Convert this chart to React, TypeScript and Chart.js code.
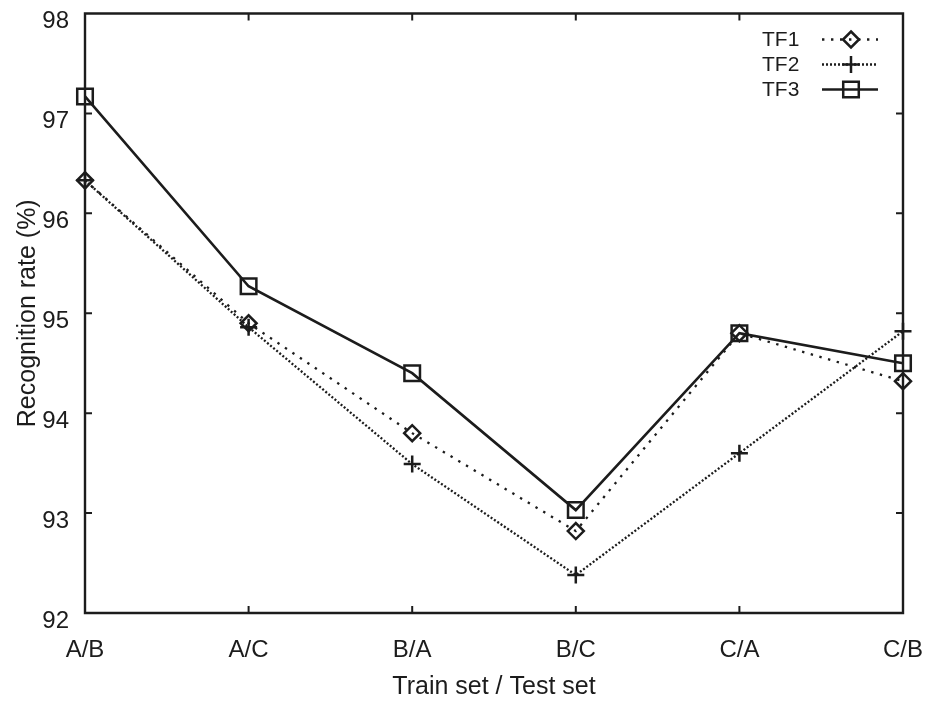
import React, { useEffect, useRef } from 'react';
import { Chart, registerables } from 'chart.js';

Chart.register(...registerables);

// Train/test split combinations along the x axis
const categories = ['A/B', 'A/C', 'B/A', 'B/C', 'C/A', 'C/B'];
const seriesNames = ['TF1', 'TF2', 'TF3'];

// Recognition rate (%) per split
const tf1Values = [96.33, 94.9, 93.8, 92.82, 94.8, 94.32];
const tf2Values = [96.33, 94.86, 93.49, 92.38, 93.6, 94.82];
const tf3Values = [97.17, 95.27, 94.4, 93.03, 94.8, 94.5];

const yMin = 92;
const yMax = 98;
const yStep = 1;

const INK = '#1c1c1c';
const FONT = '"Liberation Sans", Arial, Helvetica, sans-serif';

type MarkerStyle = 'rect' | 'rectRot' | 'cross';

function strokeMarker(ctx: CanvasRenderingContext2D, style: MarkerStyle, x: number, y: number, r: number) {
  ctx.beginPath();
  if (style === 'rect') {
    const h = r * Math.SQRT1_2;
    ctx.rect(x - h, y - h, 2 * h, 2 * h);
  } else if (style === 'rectRot') {
    ctx.moveTo(x, y - r);
    ctx.lineTo(x + r, y);
    ctx.lineTo(x, y + r);
    ctx.lineTo(x - r, y);
    ctx.closePath();
  } else {
    ctx.moveTo(x - r, y);
    ctx.lineTo(x + r, y);
    ctx.moveTo(x, y - r);
    ctx.lineTo(x, y + r);
  }
  ctx.stroke();
}

// Boxed frame with short inward tick marks on all four sides
const framePlugin = {
  id: 'frame',
  beforeDatasetsDraw(chart: any) {
    const { ctx, chartArea } = chart;
    const { left, right, top, bottom } = chartArea;
    const xs = chart.scales.x;
    const ys = chart.scales.y;
    const tick = 7;
    ctx.save();
    ctx.strokeStyle = INK;
    ctx.lineWidth = 2.4;
    ctx.setLineDash([]);
    ctx.beginPath();
    ctx.rect(left, top, right - left, bottom - top);
    ctx.stroke();
    ctx.lineWidth = 2;
    ctx.beginPath();
    for (let v = yMin + yStep; v < yMax; v += yStep) {
      const py = ys.getPixelForValue(v);
      ctx.moveTo(left, py);
      ctx.lineTo(left + tick, py);
      ctx.moveTo(right, py);
      ctx.lineTo(right - tick, py);
    }
    for (let i = 1; i < categories.length - 1; i++) {
      const px = xs.getPixelForValue(i);
      ctx.moveTo(px, bottom);
      ctx.lineTo(px, bottom - tick);
      ctx.moveTo(px, top);
      ctx.lineTo(px, top + tick);
    }
    ctx.stroke();
    ctx.restore();
  },
};

// Legend in the upper-right corner: name, then a line sample with its marker
const legendPlugin = {
  id: 'sampleLegend',
  afterDraw(chart: any) {
    const { ctx, chartArea } = chart;
    const textX = chartArea.right - 141;
    const lineX0 = chartArea.right - 81;
    const lineX1 = chartArea.right - 25;
    const markX = chartArea.right - 52;
    ctx.save();
    chart.data.datasets.forEach((ds: any, i: number) => {
      const y = chartArea.top + 26 + 25 * i;
      ctx.fillStyle = INK;
      ctx.font = `21px ${FONT}`;
      ctx.textAlign = 'left';
      ctx.textBaseline = 'middle';
      ctx.fillText(ds.label, textX, y + 1);
      ctx.strokeStyle = INK;
      ctx.lineWidth = ds.borderWidth;
      ctx.lineCap = 'butt';
      ctx.setLineDash(ds.borderDash || []);
      ctx.beginPath();
      ctx.moveTo(lineX0, y);
      ctx.lineTo(lineX1, y);
      ctx.stroke();
      ctx.setLineDash([]);
      ctx.lineWidth = ds.pointBorderWidth;
      strokeMarker(ctx, ds.pointStyle, markX, y, ds.pointRadius);
    });
    ctx.restore();
  },
};

function clearLabelPadding(scale: any) {
  scale.paddingTop = 0;
  scale.paddingBottom = 0;
  scale.paddingLeft = 0;
  scale.paddingRight = 0;
}

export default function App() {
  const canvasRef = useRef<HTMLCanvasElement | null>(null);

  useEffect(() => {
    const canvas = canvasRef.current;
    if (!canvas) return;

    const base = {
      borderColor: INK,
      pointBorderColor: INK,
      pointBackgroundColor: 'rgba(0,0,0,0)',
      backgroundColor: 'rgba(0,0,0,0)',
      fill: false,
      tension: 0,
      clip: false as const,
      pointHoverRadius: 0,
    };

    const chart = new Chart(canvas, {
      type: 'line',
      data: {
        labels: categories,
        datasets: [
          {
            ...base,
            label: seriesNames[0],
            data: tf1Values,
            borderWidth: 2.3,
            borderDash: [2.4, 6.6],
            pointStyle: 'rectRot',
            pointRadius: 8,
            pointBorderWidth: 2.5,
          },
          {
            ...base,
            label: seriesNames[1],
            data: tf2Values,
            borderWidth: 2.3,
            borderDash: [2, 2],
            pointStyle: 'cross',
            pointRadius: 8.5,
            pointBorderWidth: 2.5,
          },
          {
            ...base,
            label: seriesNames[2],
            data: tf3Values,
            borderWidth: 2.6,
            borderDash: [],
            pointStyle: 'rect',
            pointRadius: 11,
            pointBorderWidth: 2.5,
          },
        ],
      },
      options: {
        responsive: false,
        animation: false,
        devicePixelRatio: 1,
        layout: { padding: { top: 12, right: 23, left: 0, bottom: 0 } },
        plugins: {
          legend: { display: false },
          tooltip: { enabled: false },
        },
        scales: {
          x: {
            type: 'category',
            offset: false,
            grid: { display: false, drawTicks: false },
            border: { display: false },
            ticks: {
              color: INK,
              font: { family: FONT, size: 24, lineHeight: 1 },
              padding: 25,
              maxRotation: 0,
              autoSkip: false,
            },
            title: {
              display: true,
              text: 'Train set / Test set',
              color: INK,
              font: { family: FONT, size: 25, lineHeight: 1.2 },
              padding: { top: 0, bottom: 6 },
            },
            afterFit(scale: any) {
              scale.height = 95;
              clearLabelPadding(scale);
            },
          },
          y: {
            type: 'linear',
            min: yMin,
            max: yMax,
            grid: { display: false, drawTicks: false },
            border: { display: false },
            ticks: {
              stepSize: yStep,
              color: INK,
              font: { family: FONT, size: 24, lineHeight: 1 },
              padding: 16,
              labelOffset: 8,
            },
            title: {
              display: true,
              text: 'Recognition rate (%)',
              color: INK,
              font: { family: FONT, size: 25, lineHeight: 1.2 },
              padding: { top: 13, bottom: 0 },
            },
            afterFit(scale: any) {
              scale.width = 85;
              clearLabelPadding(scale);
            },
          },
        },
      },
      plugins: [framePlugin, legendPlugin],
    });

    return () => chart.destroy();
  }, []);

  return (
    <div style={{ position: 'absolute', left: 0, top: 0, width: 926, height: 708, background: '#ffffff' }}>
      <canvas ref={canvasRef} width={926} height={708} />
    </div>
  );
}
